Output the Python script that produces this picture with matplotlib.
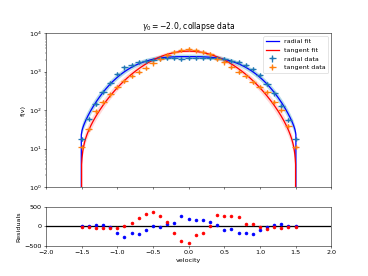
import numpy as np
import matplotlib
matplotlib.use('Agg')
import matplotlib.pyplot as plt

# velocity bins
v = [-1.5, -1.4, -1.3, -1.2, -1.1, -1.0, -0.9, -0.8, -0.7, -0.6, -0.5,
     -0.4, -0.3, -0.2, -0.1, 0.0, 0.1, 0.2, 0.3, 0.4, 0.5,
     0.6, 0.7, 0.8, 0.9, 1.0, 1.1, 1.2, 1.3, 1.4, 1.5]

radial_data = [18, 58, 145, 290, 510, 890, 1280, 1470, 1750, 1920, 2060,
               2200, 2250, 2300, 2180, 2260, 2290, 2260, 2240, 2210, 2170,
               1930, 1760, 1470, 1200, 800, 490, 270, 130, 56, 18]
tangent_data = [11, 32, 92, 160, 255, 400, 560, 765, 975, 1270, 1630,
                2130, 2700, 3250, 3700, 3830, 3550, 3300, 2800, 2130, 1730,
                1300, 960, 780, 525, 390, 290, 160, 100, 38, 11]

radial_res = [0, 20, 35, 35, -10, -160, -270, -185, -195, -95, 0,
              -15, 70, 90, 265, 195, 160, 160, 115, 35, -90,
              -70, -165, -175, -210, -90, -15, 35, 60, 20, 0]
tangent_res = [-10, -10, -35, -50, -35, -35, 10, 95, 220, 325, 380,
               265, 120, -160, -380, -430, -220, -175, 10, 290, 265,
               275, 230, 70, 60, -10, -60, -25, -50, -15, -10]

# fit parameters: A, k, q, vmax, p  (with A and k uncertainties)
radial_fit = dict(A=2450, k=1.15, q=3, vm=1.51, p=0.15)
radial_err = dict(dA=0.13, dk=0.05)
tangent_fit = dict(A=3400, k=1.9, q=2, vm=1.505, p=0.5)
tangent_err = dict(dA=0.10, dk=0.12)


def model(x, A, k, q, vm, p):
    edge = np.clip(1 - (x / vm) ** 2, 0, None)
    return A * np.exp(-k * np.abs(x) ** q) * edge ** p


v = np.array(v)
radial_data = np.array(radial_data, dtype=float)
tangent_data = np.array(tangent_data, dtype=float)

fig = plt.figure(figsize=(8, 6))
ax = fig.add_axes([0.125, 0.3225, 0.775, 0.5575])
axr = fig.add_axes([0.125, 0.11, 0.775, 0.14])

for pars, err, col, alpha in [(radial_fit, radial_err, 'lightblue', 0.9),
                              (tangent_fit, tangent_err, 'red', 0.15)]:
    xx = np.linspace(-pars['vm'], pars['vm'], 600)
    lo = dict(pars, A=pars['A'] * (1 - err['dA']), k=pars['k'] + err['dk'])
    hi = dict(pars, A=pars['A'] * (1 + err['dA']), k=pars['k'] - err['dk'])
    ax.fill_between(xx, model(xx, **lo), model(xx, **hi), color=col,
                    alpha=alpha, lw=0)

xr = np.linspace(-radial_fit['vm'], radial_fit['vm'], 600)
xt = np.linspace(-tangent_fit['vm'], tangent_fit['vm'], 600)
ax.plot(xr, model(xr, **radial_fit), color='blue', lw=2, label='radial fit')
ax.plot(xt, model(xt, **tangent_fit), color='red', lw=2, label='tangent fit')
ax.errorbar(v, radial_data, xerr=0.05, yerr=0.12 * radial_data, fmt='+',
            color='tab:blue', elinewidth=2, markersize=7, mew=2,
            label='radial data')
ax.errorbar(v, tangent_data, xerr=0.05, yerr=0.12 * tangent_data, fmt='+',
            color='tab:orange', elinewidth=2, markersize=7, mew=2,
            label='tangent data')

ax.set_yscale('log')
ax.set_ylim(1, 1e4)
ax.set_xlim(-2, 2)
ax.set_xticks([-2, -1.5, -1, -0.5, 0, 0.5, 1, 1.5, 2])
ax.tick_params(labelbottom=False)
ax.set_ylabel('f(v)')
ax.set_title(r'$\gamma_0 = -2.0$, collapse data')
ax.legend(loc='upper right')

axr.axhline(0, color='black', lw=2)
axr.errorbar(v, radial_res, yerr=25, fmt='.', color='blue', markersize=9,
             elinewidth=1.5)
axr.errorbar(v, tangent_res, yerr=25, fmt='.', color='red', markersize=9,
             elinewidth=1.5)
axr.set_xlim(-2, 2)
axr.set_ylim(-500, 500)
axr.set_xticks([-2, -1.5, -1, -0.5, 0, 0.5, 1, 1.5, 2])
axr.set_xlabel('velocity')
axr.set_ylabel('Residuals')

fig.savefig('out.png', dpi=46)
